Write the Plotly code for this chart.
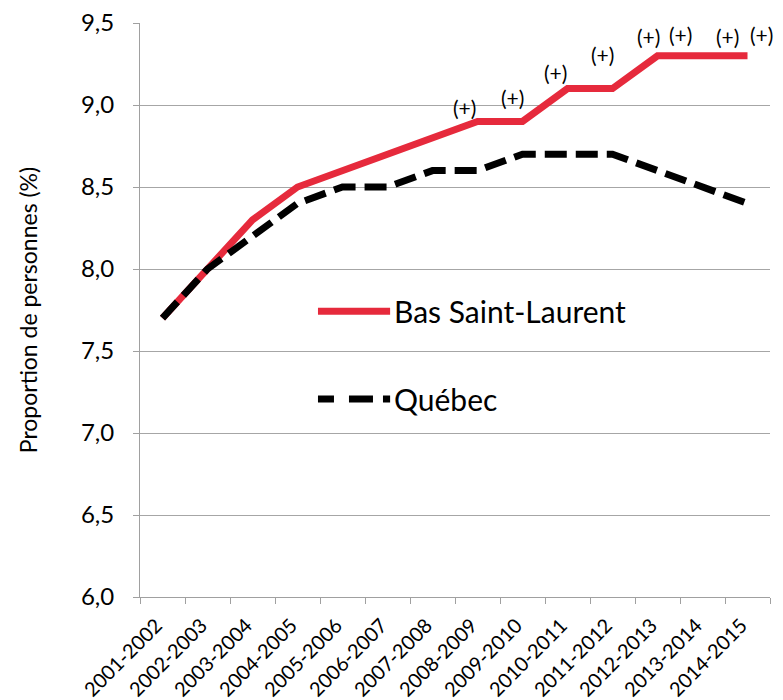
import plotly.graph_objects as go

categories = ["2001-2002", "2002-2003", "2003-2004", "2004-2005", "2005-2006",
              "2006-2007", "2007-2008", "2008-2009", "2009-2010", "2010-2011",
              "2011-2012", "2012-2013", "2013-2014", "2014-2015"]
bas_saint_laurent = [7.7, 8.0, 8.3, 8.5, 8.6, 8.7, 8.8, 8.9, 8.9, 9.1, 9.1, 9.3, 9.3, 9.3]
quebec = [7.7, 8.0, 8.2, 8.4, 8.5, 8.5, 8.6, 8.6, 8.7, 8.7, 8.7, 8.6, 8.5, 8.4]

# significance markers "(+)": anchor category, and pixel offsets from the Bas Saint-Laurent point
sig_labels = ["(+)"] * 8
sig_categories = ["2008-2009", "2009-2010", "2010-2011", "2011-2012",
                  "2012-2013", "2013-2014", "2014-2015", "2014-2015"]
sig_xshift = [-13, -10, -12, -10, -9, -22, -20, 14]
sig_yshift = [14, 24, 16, 34, 19, 21, 19, 21]

FONT = "Lato"
RED = "#E62A3C"

fig = go.Figure()
fig.add_trace(go.Scatter(x=categories, y=bas_saint_laurent, mode="lines",
                         name="Bas Saint-Laurent",
                         line=dict(color=RED, width=7)))
fig.add_trace(go.Scatter(x=categories, y=quebec, mode="lines", name="Québec",
                         line=dict(color="black", width=7, dash="22px,9px")))

val = dict(zip(categories, bas_saint_laurent))
for lab, c, dx, dy in zip(sig_labels, sig_categories, sig_xshift, sig_yshift):
    fig.add_annotation(x=c, y=val[c], text=lab, showarrow=False,
                       xshift=dx, yshift=dy, yanchor="middle",
                       font=dict(family=FONT, size=21, color="black"))

# manual legend
legend_items = [("Bas Saint-Laurent", RED, "solid", 0.498),
                ("Québec", "black", "16px,15px,24px,10px,9px,100px", 0.345)]
for name, col, dash, yp in legend_items:
    fig.add_shape(type="line", xref="paper", yref="paper",
                  x0=0.2825, x1=0.397, y0=yp, y1=yp,
                  line=dict(color=col, width=7, dash=dash))
    fig.add_annotation(xref="paper", yref="paper", x=0.400, y=yp, text=name,
                       showarrow=False, xanchor="left", yanchor="middle",
                       font=dict(family=FONT, size=30, color="black"))

fig.update_layout(
    width=775, height=692,
    margin=dict(l=132, r=13, t=15, b=103, autoexpand=False),
    paper_bgcolor="white", plot_bgcolor="white",
    showlegend=False,
    separators=", ",
    font=dict(family=FONT, color="black"),
)
fig.update_xaxes(
    type="category", range=[-0.5, len(categories) - 0.5],
    automargin=False,
    showline=True, linecolor="#A0A0A0", linewidth=1,
    ticks="outside", tickson="boundaries", ticklen=6, tickcolor="#A0A0A0",
    tickangle=-45, tickfont=dict(family=FONT, size=20, color="black"),
    ticklabelstandoff=8, ticklabelshift=-6,
    showgrid=False,
)
fig.update_yaxes(
    range=[6.0, 9.5], dtick=0.5, tickformat=".1f",
    automargin=False, ticklabeloverflow="allow",
    showline=True, linecolor="#A0A0A0", linewidth=1,
    ticks="outside", ticklen=6, tickcolor="#A0A0A0",
    showgrid=True, gridcolor="#A6A6A6", gridwidth=1,
    zeroline=False,
    tickfont=dict(family=FONT, size=24, color="black"),
    ticklabelstandoff=14,
    title=dict(text="Proportion de personnes (%)", standoff=36,
               font=dict(family=FONT, size=23, color="black")),
)

fig.write_html("out.html")
